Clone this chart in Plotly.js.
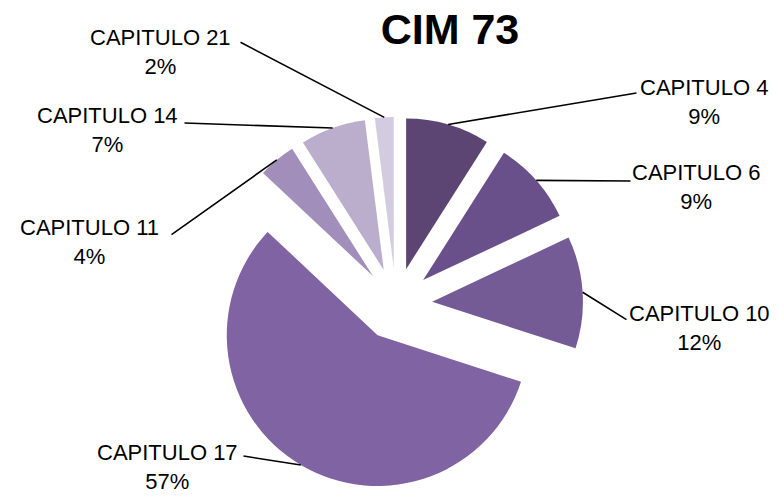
<!DOCTYPE html>
<html>
<head>
<meta charset="utf-8">
<script src="https://cdn.plot.ly/plotly-3.0.1.min.js"></script>
<style>
    html, body { margin: 0; padding: 0; background: #fff; }
    #chart { width: 781px; height: 499px; }
</style>
</head>
<body>
<div id="chart"></div>
<script>
const labels = ['CAPITULO 4', 'CAPITULO 6', 'CAPITULO 10', 'CAPITULO 17', 'CAPITULO 11', 'CAPITULO 14', 'CAPITULO 21'];
const shares = [9, 9, 12, 57, 4, 7, 2];
const colors = ['#5C4572', '#69508A', '#745B95', '#7F63A2', '#A18EBB', '#BAAECC', '#D3CCE0'];

// page geometry (px)
const W = 781, H = 499;
const pull = 0.24;
const cx = 396, cy = 304, half = 187;   // pie box centre and half side
// centre of each two-line label block
const labelPos = [[704, 102], [696, 187], [699, 328], [167, 467], [89, 242], [107, 130], [160, 52]];
// where each leader line leaves its label
const lineStart = [[637, 93], [631, 181], [627, 320], [243, 456], [171, 235], [184, 123], [240, 42]];

const total = shares.reduce((a, b) => a + b, 0);
const font = { family: 'Liberation Sans, Arial, sans-serif', size: 22, color: '#000' };
const annotations = [];
let cum = 0;
shares.forEach((v, i) => {
    const mid = (cum + v / 2) / total * 2 * Math.PI;
    cum += v;
    // point on the outer arc of the pulled slice
    const tx = cx + half * Math.sin(mid);
    const ty = cy - half * Math.cos(mid);
    annotations.push({
        x: tx / W, y: 1 - ty / H, xref: 'paper', yref: 'paper',
        ax: lineStart[i][0] - tx, ay: lineStart[i][1] - ty,
        text: ' ', font: { size: 1 }, borderpad: 0,
        showarrow: true, arrowhead: 0, arrowwidth: 1.6, arrowcolor: '#000', standoff: 0
    });
    annotations.push({
        x: labelPos[i][0] / W, y: 1 - labelPos[i][1] / H, xref: 'paper', yref: 'paper',
        xanchor: 'center', yanchor: 'middle',
        text: `${labels[i]}<br>${v}%`,
        showarrow: false, align: 'center', font: font
    });
});

const data = [{
    type: 'pie',
    labels: labels,
    values: shares,
    sort: false,
    direction: 'clockwise',
    rotation: 0,
    pull: shares.map(() => pull),
    marker: { colors: colors, line: { width: 0 } },
    textinfo: 'none',
    hoverinfo: 'none',
    showlegend: false,
    domain: {
        x: [(cx - half) / W, (cx + half) / W],
        y: [1 - (cy + half) / H, 1 - (cy - half) / H]
    }
}];

const layout = {
    width: W,
    height: H,
    margin: { l: 0, r: 0, t: 0, b: 0 },
    paper_bgcolor: '#fff',
    title: {
        text: '<b>CIM 73</b>',
        x: 450 / W, xanchor: 'center',
        y: 1 - 29 / H, yanchor: 'middle', yref: 'container',
        font: { family: 'Liberation Sans, Arial, sans-serif', size: 43, color: '#000' }
    },
    annotations: annotations
};

Plotly.newPlot('chart', data, layout, { staticPlot: true, displayModeBar: false });
</script>
</body>
</html>
